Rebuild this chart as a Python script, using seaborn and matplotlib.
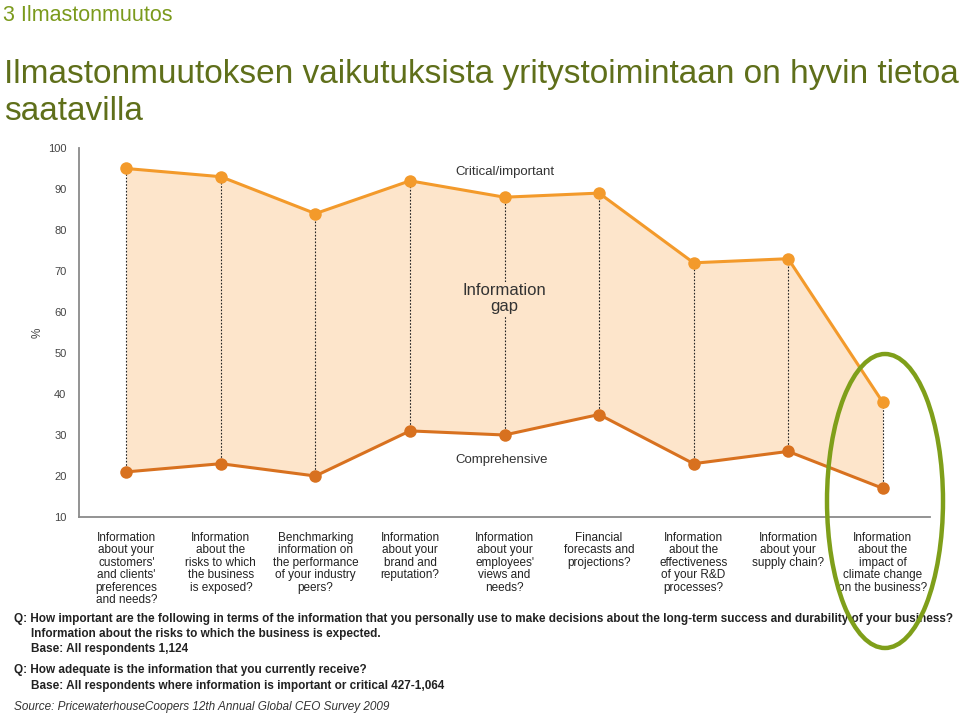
import matplotlib
matplotlib.use("Agg")
import matplotlib.pyplot as plt
import seaborn as sns
import pandas as pd
import numpy as np
from matplotlib.patches import Ellipse
from matplotlib import font_manager

categories = [
    "Information\nabout your\ncustomers'\nand clients'\npreferences\nand needs?",
    "Information\nabout the\nrisks to which\nthe business\nis exposed?",
    "Benchmarking\ninformation on\nthe performance\nof your industry\npeers?",
    "Information\nabout your\nbrand and\nreputation?",
    "Information\nabout your\nemployees'\nviews and\nneeds?",
    "Financial\nforecasts and\nprojections?",
    "Information\nabout the\neffectiveness\nof your R&D\nprocesses?",
    "Information\nabout your\nsupply chain?",
    "Information\nabout the\nimpact of\nclimate change\non the business?",
]
critical = [95, 93, 84, 92, 88, 89, 72, 73, 38]
comprehensive = [21, 23, 20, 31, 30, 35, 23, 26, 17]
yticks = [10, 20, 30, 40, 50, 60, 70, 80, 90, 100]

sns.set_theme(style="white")
names = {f.name for f in font_manager.fontManager.ttflist}
narrow = "Liberation Sans Narrow" if "Liberation Sans Narrow" in names else "Liberation Sans"
plt.rcParams["font.family"] = ["Liberation Sans", "DejaVu Sans"]

W, H = 960, 717
fig = plt.figure(figsize=(W / 100, H / 100), dpi=100)
fig.patch.set_facecolor("white")

def fx(px):
    return px / W

def fy(py):
    return 1 - py / H

ax = fig.add_axes([fx(79), fy(517), fx(930) - fx(79), fy(148) - fy(517)])
ax.set_facecolor("white")

x = np.arange(len(categories))
df = pd.DataFrame({"x": np.concatenate([x, x]),
                   "v": critical + comprehensive,
                   "s": ["Critical/important"] * len(x) + ["Comprehensive"] * len(x)})

upper_c = "#f39a2b"
lower_c = "#d8711f"
fill_c = "#fde5cb"

ax.fill_between(x, comprehensive, critical, color=fill_c, lw=0, zorder=1)
ax.vlines(x, comprehensive, critical, colors="#222222", linestyles=(0, (1.5, 1.5)), lw=0.8, zorder=2)
sns.lineplot(data=df, x="x", y="v", hue="s", palette={"Critical/important": upper_c, "Comprehensive": lower_c},
             marker="o", markersize=9, markeredgewidth=0, lw=2.2, legend=False, ax=ax, zorder=3)

ax.set_xlim(-0.5, 8.5)
ax.set_ylim(10, 100)
ax.set_yticks(yticks)
ax.set_yticklabels([str(t) for t in yticks], fontsize=8, color="#444444")
ax.tick_params(axis="y", length=0, pad=9)
ax.set_xticks([])
ax.set_xlabel("")
ax.set_ylabel("%", fontsize=8.5, color="#444444", labelpad=3)
for s in ["top", "right"]:
    ax.spines[s].set_visible(False)
for s in ["left", "bottom"]:
    ax.spines[s].set_color("#8a8a8a")
    ax.spines[s].set_linewidth(1.3)

ax.text(3.48, 94.1, "Critical/important", fontsize=9.5, color="#333333", va="center", ha="left", zorder=5)
ax.text(3.48, 23.9, "Comprehensive", fontsize=9.5, color="#333333", va="center", ha="left", zorder=5)
ax.text(4.0, 63.2, "Information\ngap", fontsize=12, color="#333333", va="center", ha="center",
        linespacing=1.1, zorder=5, bbox=dict(facecolor=fill_c, edgecolor="none", pad=1))

for i, c in enumerate(categories):
    ax.text(i, -0.04, c, transform=ax.get_xaxis_transform(), ha="center", va="top",
            fontsize=8.5, family=narrow, color="#222222", linespacing=1.05)

fig.text(fx(3), fy(21), "3 Ilmastonmuutos", fontsize=15.5, color="#7b9a1c", ha="left", va="baseline")
fig.text(fx(4), fy(83), "Ilmastonmuutoksen vaikutuksista yritystoimintaan on hyvin tietoa",
         fontsize=24, color="#5f6f1a", ha="left", va="baseline")
fig.text(fx(4), fy(120), "saatavilla",
         fontsize=24, color="#5f6f1a", ha="left", va="baseline")

qcol = "#222222"
qfs = 8.5
fig.text(fx(14), fy(619), "Q: How important are the following in terms of the information that you personally use to make decisions about the long-term success and durability of your business?",
         fontsize=qfs, family=narrow, weight="bold", color=qcol, va="center", ha="left")
fig.text(fx(31), fy(634), "Information about the risks to which the business is expected.",
         fontsize=qfs, family=narrow, weight="bold", color=qcol, va="center", ha="left")
fig.text(fx(31), fy(649), "Base: All respondents 1,124",
         fontsize=qfs, family=narrow, weight="bold", color=qcol, va="center", ha="left")
fig.text(fx(14), fy(670), "Q: How adequate is the information that you currently receive?",
         fontsize=qfs, family=narrow, weight="bold", color=qcol, va="center", ha="left")
fig.text(fx(31), fy(686), "Base: All respondents where information is important or critical 427-1,064",
         fontsize=qfs, family=narrow, weight="bold", color=qcol, va="center", ha="left")
fig.text(fx(14), fy(707), "Source: PricewaterhouseCoopers 12th Annual Global CEO Survey 2009",
         fontsize=qfs, family=narrow, style="italic", color="#333333", va="center", ha="left")

ell = Ellipse((fx(885), fy(501)), fx(116), 294 / H, transform=fig.transFigure,
              fill=False, edgecolor="#7f9f1a", lw=3.2, zorder=10)
fig.add_artist(ell)

fig.savefig("out.png", dpi=100)
